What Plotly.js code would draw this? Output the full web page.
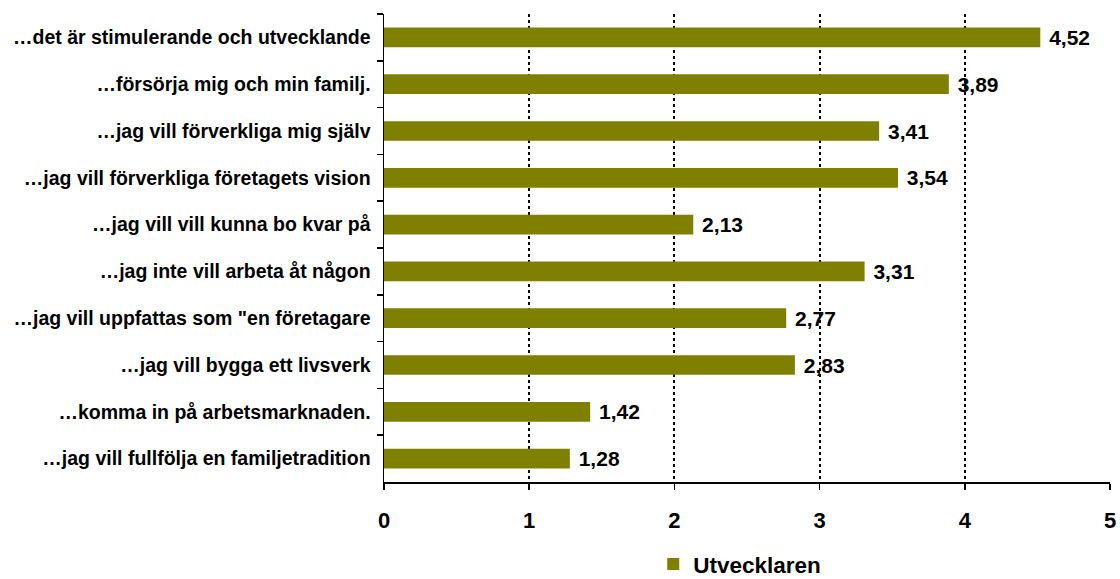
<!DOCTYPE html>
<html>
<head>
<meta charset="utf-8">
<script src="https://cdn.plot.ly/plotly-3.0.1.min.js"></script>
<style>html,body{margin:0;padding:0;background:#fff;}#chart{width:1120px;height:579px;}</style>
</head>
<body>
<div id="chart"></div>
<script>
const categories = [
  "…det är stimulerande och utvecklande",
  "…försörja mig och min familj.",
  "…jag vill förverkliga mig själv",
  "…jag vill förverkliga företagets vision",
  "…jag vill vill kunna bo kvar på",
  "…jag inte vill arbeta åt någon",
  "…jag vill uppfattas som \"en företagare",
  "…jag vill bygga ett livsverk",
  "…komma in på arbetsmarknaden.",
  "…jag vill fullfölja en familjetradition"
];
const values = [4.52, 3.89, 3.41, 3.54, 2.13, 3.31, 2.77, 2.83, 1.42, 1.28];
const seriesName = "Utvecklaren";
const xTicks = [0, 1, 2, 3, 4, 5];

const FONT = "Liberation Sans, Arial, sans-serif";

const trace = {
  type: "bar",
  orientation: "h",
  name: seriesName,
  y: categories,
  x: values,
  marker: {color: "#808000"},
  texttemplate: " %{x:.2f}",
  textposition: "outside",
  constraintext: "none",
  cliponaxis: false,
  textfont: {family: FONT, size: 21, color: "#000", weight: "bold"},
  outsidetextfont: {family: FONT, size: 21, color: "#000", weight: "bold"},
  hoverinfo: "skip"
};

const layout = {
  width: 1120,
  height: 579,
  margin: {l: 384, r: 10, t: 14, b: 97, autoexpand: false},
  paper_bgcolor: "#fff",
  plot_bgcolor: "#fff",
  separators: ", ",
  bargap: 0.58,
  showlegend: true,
  legend: {
    orientation: "h",
    x: 0.49, xanchor: "center",
    y: -0.176, yanchor: "middle",
    font: {family: FONT, size: 22.5, color: "#000", weight: "bold"},
    itemwidth: 30
  },
  xaxis: {
    range: [0, 5],
    tickvals: xTicks,
    ticktext: xTicks.map(String),
    showgrid: true,
    gridcolor: "#000",
    gridwidth: 2,
    griddash: "dot",
    zeroline: false,
    showline: true,
    linecolor: "#000",
    linewidth: 1.5,
    ticks: "outside",
    ticklen: 6,
    tickwidth: 1.5,
    tickcolor: "#000",
    ticklabelstandoff: 12,
    tickfont: {family: FONT, size: 22, color: "#000", weight: "bold"},
    fixedrange: true
  },
  yaxis: {
    autorange: "reversed",
    type: "category",
    showgrid: false,
    showline: true,
    linecolor: "#000",
    linewidth: 1.5,
    ticks: "outside",
    tickson: "boundaries",
    ticklen: 6,
    tickwidth: 1.5,
    tickcolor: "#000",
    ticklabelstandoff: 8,
    tickfont: {family: FONT, size: 19.5, color: "#000", weight: "bold"},
    fixedrange: true
  }
};

Plotly.newPlot("chart", [trace], layout, {displayModeBar: false, staticPlot: true});
</script>
</body>
</html>
